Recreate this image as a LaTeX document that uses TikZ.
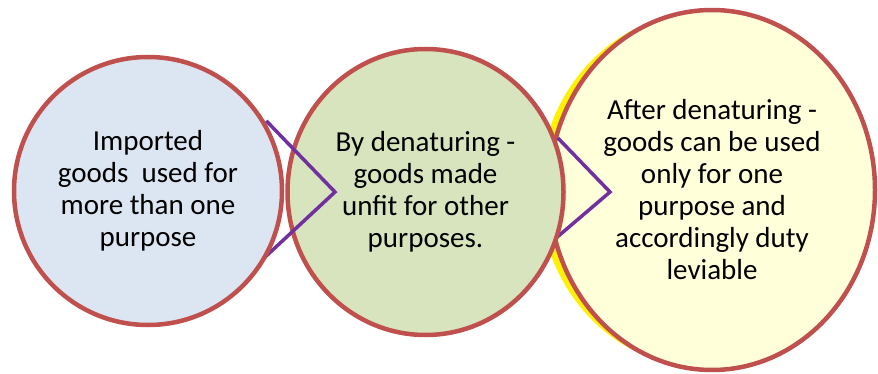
\documentclass[tikz,border=0pt]{standalone}
\usepackage{fontspec}
\setmainfont{Carlito}
\usetikzlibrary{shapes.geometric}
\definecolor{RimRed}{HTML}{C0504D}
\definecolor{ChevPurple}{HTML}{7030A0}
\definecolor{FillBlue}{HTML}{DCE6F2}
\definecolor{FillGreen}{HTML}{D7E4BD}
\definecolor{FillYellow}{HTML}{FFFFDA}

\begin{document}
\begin{tikzpicture}[x=1pt, y=-1pt, font=\fontsize{29}{32}\selectfont,
  c/.style={ellipse, draw=RimRed, line width=4.5pt, inner sep=0pt, align=center},
  chev/.style={draw=ChevPurple, line width=3.5pt, line join=miter}]
  \useasboundingbox (0,0) rectangle (878,374);
  % yellow rim behind the last circle
  \node[c, draw=none, fill=yellow, minimum width=332pt, minimum height=356pt] (sh) at (705.5,190) {};
  \node[c, fill=FillYellow, minimum width=326pt, minimum height=360pt] (after) at (712,190)
    {After denaturing -\\goods can be used\\only for one\\purpose and\\accordingly duty\\leviable};
  \coordinate (tip2) at (610,192);
  \draw[chev] (425,192) ++(20:138) -- (tip2) -- ++(-134:75);
  \node[c, fill=FillGreen, minimum width=276pt, minimum height=286pt] (denat) at (425.5,192)
    {By denaturing -\\goods made\\unfit for other\\purposes.};
  \coordinate (tip1) at (335,192);
  \draw[chev] (148,191) ++(30:134) -- (tip1) -- ++(-134:99);
  \node[c, fill=FillBlue, minimum size=268pt] (imp) at (148,191)
    {Imported\\goods\ \ used for\\more than one\\purpose};
\end{tikzpicture}
\end{document}
